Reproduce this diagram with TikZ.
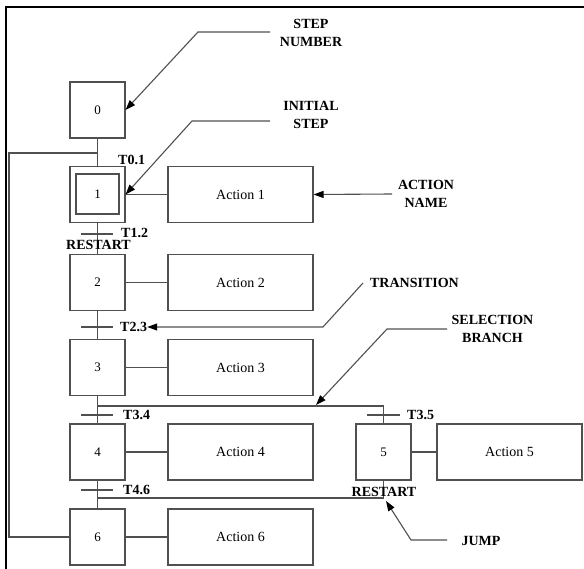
\documentclass[tikz,border=0pt]{standalone}
\usepackage{fontspec}
\setmainfont{Liberation Serif}
\usetikzlibrary{arrows.meta}
\definecolor{ln}{HTML}{505050}
\tikzset{
  stepbox/.style={draw=ln, line width=1.1pt, minimum width=55pt, minimum height=56pt, inner sep=0pt, font=\fontsize{13}{15}\selectfont},
  innerbox/.style={draw=ln, line width=1.1pt, minimum width=43pt, minimum height=40pt, inner sep=0pt},
  actbox/.style={draw=ln, line width=1.1pt, minimum width=145pt, minimum height=56pt, inner sep=0pt, font=\fontsize{14}{16}\selectfont},
  lbl/.style={inner sep=0pt, font=\fontsize{14}{18}\selectfont\bfseries, align=center},
  tlbl/.style={inner sep=0pt, font=\fontsize{14}{16}\selectfont\bfseries},
  wire/.style={draw=ln, line width=1.1pt},
  pointer/.style={draw=ln, line width=1.1pt, -{Triangle[length=10pt,width=7pt,color=black]}},
}
\begin{document}
\begin{tikzpicture}[x=1pt,y=-1pt]
\useasboundingbox (0,0) rectangle (584,569);
\fill[white] (0,0) rectangle (584,569);
% frame
\draw[line width=2.4pt, black] (6,569) -- (6,7) -- (584,7);

% steps
\node[stepbox] (s0) at (97.5,110) {0};
\node[stepbox] (s1) at (97.5,194.5) {};
\node[innerbox] (s1in) at (97.5,194) {\fontsize{13}{15}\selectfont 1};
\node[stepbox] (s2) at (97.5,282.5) {2};
\node[stepbox] (s3) at (97.5,367.5) {3};
\node[stepbox] (s4) at (97.5,452) {4};
\node[stepbox] (s5) at (383.5,452) {5};
\node[stepbox] (s6) at (97.5,537) {6};

% actions
\node[actbox] (a1) at (240.5,194.5) {Action 1};
\node[actbox] (a2) at (240.5,282.5) {Action 2};
\node[actbox] (a3) at (240.5,367.5) {Action 3};
\node[actbox] (a4) at (240.5,452) {Action 4};
\node[actbox] (a5) at (509.5,452) {Action 5};
\node[actbox] (a6) at (240.5,537) {Action 6};

\foreach \i in {1,...,6} {\draw[wire] (s\i.east) -- (a\i.west);}

% coordinates
\coordinate (j01) at (97.5,153);
\coordinate (lp1) at (9,537);
\coordinate (lp2) at (9,153);
\coordinate (br) at (97.5,406);
\coordinate (br5) at (383.5,406);
\coordinate (cv) at (97.5,498);
\coordinate (cv5) at (383.5,498);

% main vertical
\draw[wire] (s0.south) -- (s1.north);
\draw[wire] (s1.south) -- (s2.north);
\draw[wire] (s2.south) -- (s3.north);
\draw[wire] (s3.south) -- (s4.north);
\draw[wire] (s4.south) -- (s6.north);
% loop back
\draw[wire] (s6.west) -- (lp1) -- (lp2) -- (j01);
% selection branch
\draw[wire] (br) -- (br5) -- (s5.north);
% restart line
\draw[wire] (s5.south) -- (cv5) -- (cv);

% transition ticks
\coordinate (t12a) at (81,234); \coordinate (t12b) at (113,234);
\coordinate (t23a) at (81,327); \coordinate (t23b) at (113,327);
\coordinate (t34a) at (81,415); \coordinate (t34b) at (113,415);
\coordinate (t35a) at (367,415); \coordinate (t35b) at (400,415);
\coordinate (t46a) at (81,490); \coordinate (t46b) at (113,490);
\draw[wire] (t12a) -- (t12b);
\draw[wire] (t23a) -- (t23b);
\draw[wire] (t34a) -- (t34b);
\draw[wire] (t35a) -- (t35b);
\draw[wire] (t46a) -- (t46b);

% transition labels
\node[tlbl, anchor=west] (T01) at (118,160) {T0.1};
\node[tlbl, anchor=west] (T12) at (121,233) {T1.2};
\node[tlbl] (R1) at (98.5,245) {RESTART};
\node[tlbl, anchor=west] (T23) at (120,327) {T2.3};
\node[tlbl, anchor=west] (T34) at (123,415) {T3.4};
\node[tlbl, anchor=west] (T35) at (407,415) {T3.5};
\node[tlbl, anchor=west] (T46) at (123,490) {T4.6};
\node[tlbl] (R2) at (384,492) {RESTART};

% annotation labels
\node[lbl] (Lsn) at (311,32.5) {STEP\\NUMBER};
\node[lbl] (Lis) at (311,114.5) {INITIAL\\STEP};
\node[lbl] (Lan) at (426,194) {ACTION\\NAME};
\node[lbl] (Ltr) at (414.5,283) {TRANSITION};
\node[lbl] (Lsb) at (492.5,329) {SELECTION\\BRANCH};
\node[lbl] (Lj) at (481,541) {JUMP};

% pointers
\coordinate (p1a) at (270,32); \coordinate (p1b) at (198,32);
\draw[pointer] (p1a) -- (p1b) -- (s0.east);
\coordinate (p2a) at (270,121); \coordinate (p2b) at (192,121);
\draw[pointer] (p2a) -- (p2b) -- (s1.east);
\coordinate (p3a) at (392,194);
\draw[pointer] (p3a) -- (a1.east);
\coordinate (p4a) at (363,283); \coordinate (p4b) at (323,327);
\draw[pointer] (p4a) -- (p4b) -- (T23.east);
\coordinate (p5a) at (447,329); \coordinate (p5b) at (387,329); \coordinate (p5c) at (316,405);
\draw[pointer] (p5a) -- (p5b) -- (p5c);
\coordinate (p6a) at (447,540); \coordinate (p6b) at (411,540); \coordinate (p6c) at (386,501);
\draw[pointer] (p6a) -- (p6b) -- (p6c);
\end{tikzpicture}
\end{document}
